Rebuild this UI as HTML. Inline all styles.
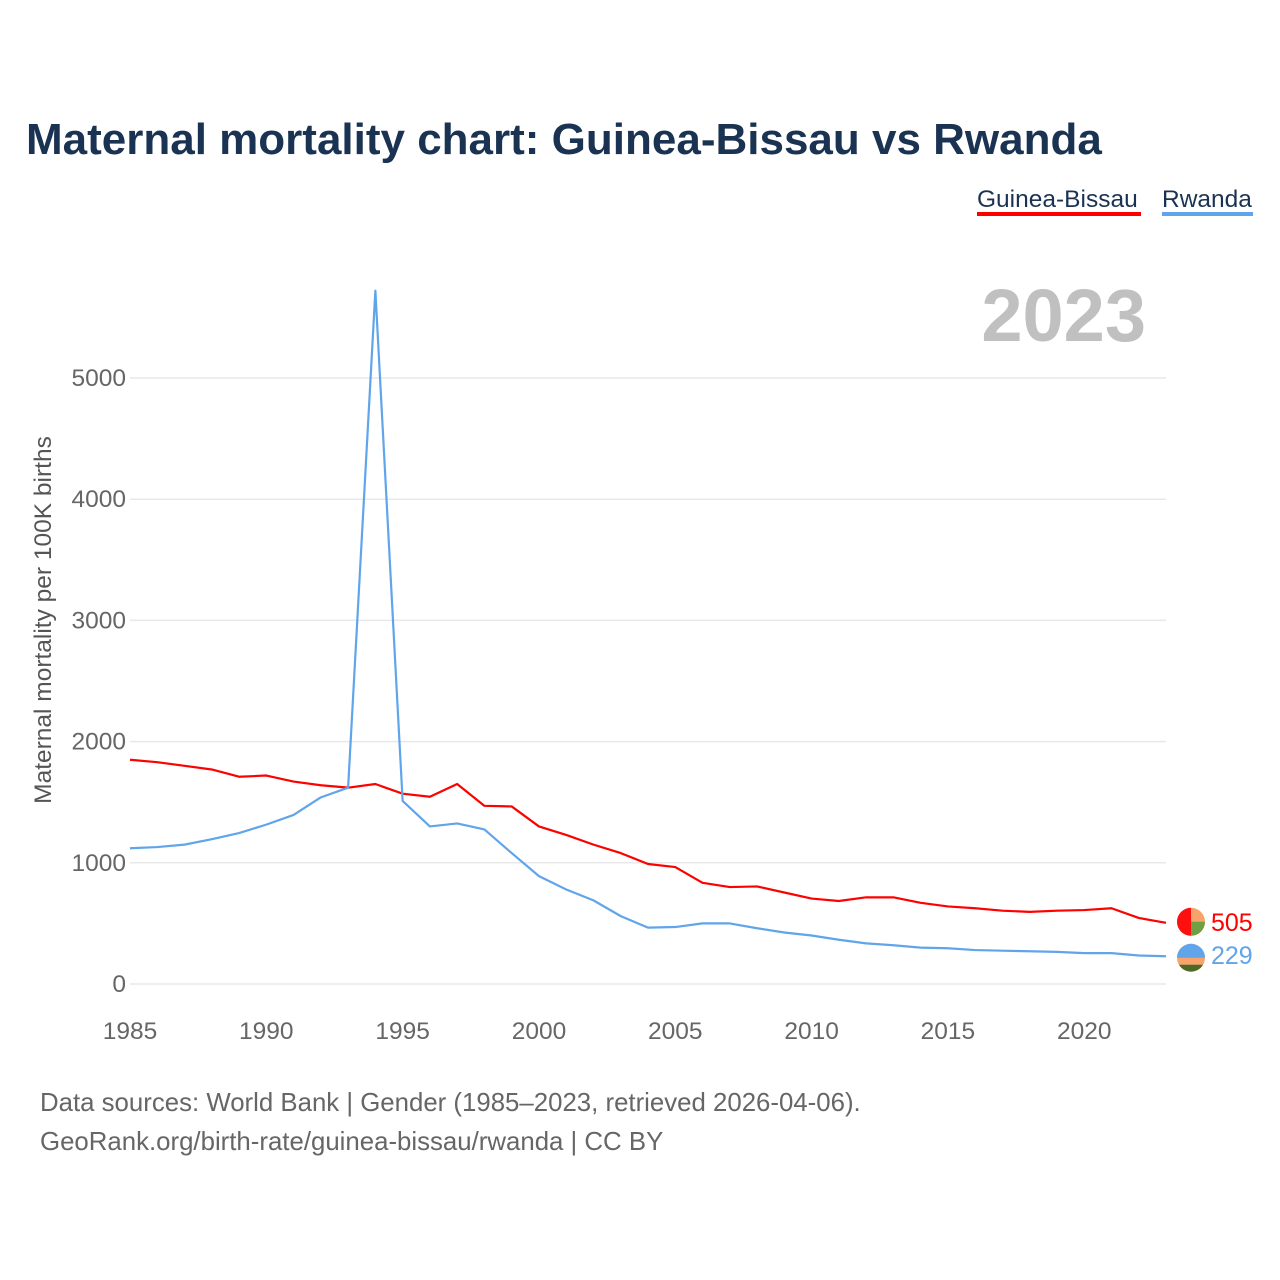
<!DOCTYPE html>
<html><head><meta charset="utf-8"><style>
body{margin:0;background:#fff;font-family:"Liberation Sans",sans-serif;}
#wrap{position:relative;width:1280px;height:1280px;overflow:hidden}
</style></head><body>
<div id="wrap">
<svg id="chart" width="1280" height="1280">
<text x="26" y="154" font-size="44" font-weight="bold" fill="#1b3352">Maternal mortality chart: Guinea-Bissau vs Rwanda</text>
<g>
<text x="977" y="207" font-size="24.5" fill="#1b3352">Guinea-Bissau</text>
<rect x="977" y="212" width="164" height="4" fill="#ff0000"/>
<text x="1162" y="207" font-size="24.5" fill="#1b3352">Rwanda</text>
<rect x="1162" y="212" width="91" height="4" fill="#60a5ea"/>
</g>
<text x="1146" y="341" font-size="74" font-weight="bold" fill="#c0c0c0" text-anchor="end">2023</text>
<text transform="translate(51,620) rotate(-90)" font-size="24.5" fill="#555" text-anchor="middle">Maternal mortality per 100K births</text>
<g id="grid"></g><g id="ticks"></g><g id="lines"></g>
<text x="40" y="1111" font-size="25.8" fill="#666">Data sources: World Bank | Gender (1985–2023, retrieved 2026-04-06).</text>
<text x="40" y="1150" font-size="25.8" fill="#666">GeoRank.org/birth-rate/guinea-bissau/rwanda | CC BY</text>
</svg></div>
<script>
const years=[];for(let y=1985;y<=2023;y++)years.push(y);
const guineaBissau=[1850,1830,1800,1770,1710,1720,1670,1640,1620,1650,1570,1545,1650,1470,1465,1300,1230,1150,1080,990,965,835,800,805,755,705,685,715,715,670,640,625,605,595,605,610,625,545,505];
const rwanda=[1120,1130,1150,1195,1245,1315,1395,1540,1620,5720,1510,1300,1325,1275,1080,890,780,690,560,465,470,500,500,460,425,400,365,335,320,300,295,280,275,270,265,255,255,235,229];
const yTicks=[0,1000,2000,3000,4000,5000];
const xTicks=[1985,1990,1995,2000,2005,2010,2015,2020];
const NS="http://www.w3.org/2000/svg";
const X=v=>130+(v-1985)*(1166-130)/38;
const Y=v=>984-v*0.1212;
function mk(tag,attrs,parent,text){const e=document.createElementNS(NS,tag);for(const k in attrs)e.setAttribute(k,attrs[k]);if(text!=null)e.textContent=text;document.getElementById(parent).appendChild(e);return e;}
yTicks.forEach(t=>{
 const l=mk('line',{x1:130,x2:1166,y1:Y(t),y2:Y(t),stroke:'#e8e8e8','stroke-width':1.5},'grid');
 
 
 const tx=mk('text',{x:126,y:Y(t)+8,'font-size':24.5,fill:'#666','text-anchor':'end'},'ticks',t);
 
 
});
xTicks.forEach(t=>{
 const tx=mk('text',{x:X(t),y:1039,'font-size':24.5,fill:'#666','text-anchor':'middle'},'ticks',t);
 
 
});
function line(data,color,name){
 const p=mk('polyline',{points:data.map((v,i)=>X(years[i])+','+Y(v)).join(' '),fill:'none',stroke:color,'stroke-width':2.2,'stroke-linejoin':'round'},'lines');
 
 
}
line(guineaBissau,'#ff0000','guinea-bissau-line');
line(rwanda,'#60a5ea','rwanda-line');
const gl=guineaBissau[guineaBissau.length-1], rl=rwanda[rwanda.length-1];
const gy=Y(gl)-1, ry=Math.max(Y(rl), gy+36);
const c1=mk('circle',{cx:1191,cy:gy,r:14,fill:'#f9a36c'},'lines');


const c1b=mk('path',{d:`M1191 ${gy-14} A14 14 0 0 0 1191 ${gy+14} Z`,fill:'#ff1010'},'lines');


const c1c=mk('path',{d:`M1191 ${gy} L1205 ${gy} A14 14 0 0 1 1191 ${gy+14} Z`,fill:'#6fa044'},'lines');


const c2=mk('circle',{cx:1191,cy:ry,r:14,fill:'#f9a36c'},'lines');


const c2b=mk('path',{d:`M1177 ${ry} A14 14 0 0 1 1205 ${ry} Z`,fill:'#60a5ea'},'lines');


const c2c=mk('path',{d:`M1179 ${ry+7} L1203 ${ry+7} A14 14 0 0 1 1179 ${ry+7} Z`,fill:'#4a6a2a'},'lines');


const v1=mk('text',{x:1211,y:gy+9,'font-size':25,fill:'#ff0000'},'lines',gl);


const v2=mk('text',{x:1211,y:ry+6,'font-size':25,fill:'#60a5ea'},'lines',rl);


</script>
</body></html>
